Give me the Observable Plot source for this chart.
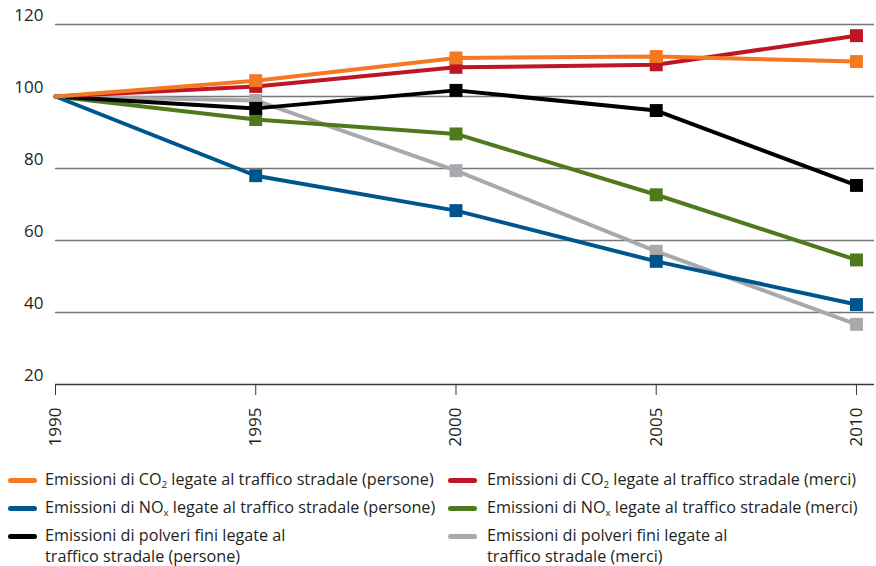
<!DOCTYPE html>
<html>
<head>
<meta charset="utf-8">
<script src="https://cdn.jsdelivr.net/npm/d3@7"></script>
<script src="https://cdn.jsdelivr.net/npm/@observablehq/plot@0.6"></script>
<style>
  html, body { margin: 0; padding: 0; background: #fff; }
  body { width: 876px; height: 566px; position: relative; overflow: hidden; font-family: "Open Sans", sans-serif; }
  #chart { position: absolute; left: 0; top: 0; }
  .leg { position: absolute; font-size: 16.2px; line-height: 21px; color: #231f20; white-space: nowrap; }
  .sw { position: absolute; height: 5px; border-radius: 3px; }
  sub { font-size: 0.6em; vertical-align: -0.35em; line-height: 0; }
</style>
</head>
<body>
<div id="chart"></div>
<div id="legend"></div>
<script>
const years = [1990, 1995, 2000, 2005, 2010];
const yTicks = [20, 40, 60, 80, 100, 120];

const seriesNames = [
  "Emissioni di polveri fini legate al traffico stradale (merci)",
  "Emissioni di NOx legate al traffico stradale (merci)",
  "Emissioni di polveri fini legate al traffico stradale (persone)",
  "Emissioni di CO2 legate al traffico stradale (merci)",
  "Emissioni di NOx legate al traffico stradale (persone)",
  "Emissioni di CO2 legate al traffico stradale (persone)"
];
const seriesColors = ["#a7a9ac", "#4e7a1b", "#000000", "#be1622", "#00558f", "#f47920"];

const pmMerci     = [100, 98.9, 79.4, 57.0, 36.7];
const noxMerci    = [100, 93.6, 89.6, 72.7, 54.6];
const pmPersone   = [100, 96.7, 101.7, 96.1, 75.3];
const co2Merci    = [100, 102.8, 108.1, 108.8, 116.9];
const noxPersone  = [100, 78.0, 68.3, 54.2, 42.2];
const co2Persone  = [100, 104.4, 110.7, 111.1, 109.7];
const seriesValues = [pmMerci, noxMerci, pmPersone, co2Merci, noxPersone, co2Persone];

// legend layout (label html, color index), in legend order
const legendLabels = [
  ["Emissioni di CO<sub>2</sub> legate al traffico stradale (persone)", 5],
  ["Emissioni di CO<sub>2</sub> legate al traffico stradale (merci)", 3],
  ["Emissioni di NO<sub>x</sub> legate al traffico stradale (persone)", 4],
  ["Emissioni di NO<sub>x</sub> legate al traffico stradale (merci)", 1],
  ["Emissioni di polveri fini legate al<br>traffico stradale (persone)", 2],
  ["Emissioni di polveri fini legate al<br>traffico stradale (merci)", 0]
];

const rows = [];
seriesValues.forEach((vals, si) => {
  vals.forEach((v, i) => rows.push({series: seriesNames[si], order: si, year: years[i], value: v}));
});

const marks = [
  Plot.ruleY(yTicks.filter(d => d > 20), {stroke: "#767676", strokeWidth: 1.4}),
  Plot.axisY(yTicks, {tickSize: 0, tickPadding: 12, dy: -9, fontSize: 17, fill: "#231f20", label: null}),
  Plot.ruleY([20], {stroke: "#3a3a3a", strokeWidth: 1.6}),
  Plot.axisX(years, {tickSize: 11, tickRotate: -90, tickPadding: 12, fontSize: 17, fill: "#231f20", stroke: "#3a3a3a", label: null, tickFormat: d => String(d)})
];
seriesNames.forEach((name, si) => {
  const data = rows.filter(r => r.order === si);
  marks.push(Plot.line(data, {x: "year", y: "value", stroke: seriesColors[si], strokeWidth: 4}));
  marks.push(Plot.dot(data.filter(r => r.year > 1990), {x: "year", y: "value", symbol: "square", r: 7.3, fill: seriesColors[si], stroke: "none"}));
});

const chart = Plot.plot({
  width: 876,
  height: 450,
  marginTop: 24,
  marginBottom: 66,
  marginLeft: 55,
  marginRight: 2,
  style: {fontFamily: "Open Sans, sans-serif", background: "#fff"},
  x: {domain: [1990, 2010.45]},
  y: {domain: [20, 120]},
  marks
});
document.getElementById("chart").appendChild(chart);

// HTML legend
const leg = document.getElementById("legend");
const colX = [[8, 45], [448, 487]];
const rowY = [480, 508, 536];
legendLabels.forEach(([html, ci], k) => {
  const col = k % 2, row = Math.floor(k / 2);
  const sw = document.createElement("div");
  sw.className = "sw";
  sw.style.left = colX[col][0] + "px";
  sw.style.width = "29px";
  sw.style.top = (rowY[row] - 2.5) + "px";
  sw.style.background = seriesColors[ci];
  leg.appendChild(sw);
  const t = document.createElement("div");
  t.className = "leg";
  t.style.left = colX[col][1] + "px";
  t.style.top = (rowY[row] - 11) + "px";
  t.innerHTML = html;
  leg.appendChild(t);
});
</script>
</body>
</html>
